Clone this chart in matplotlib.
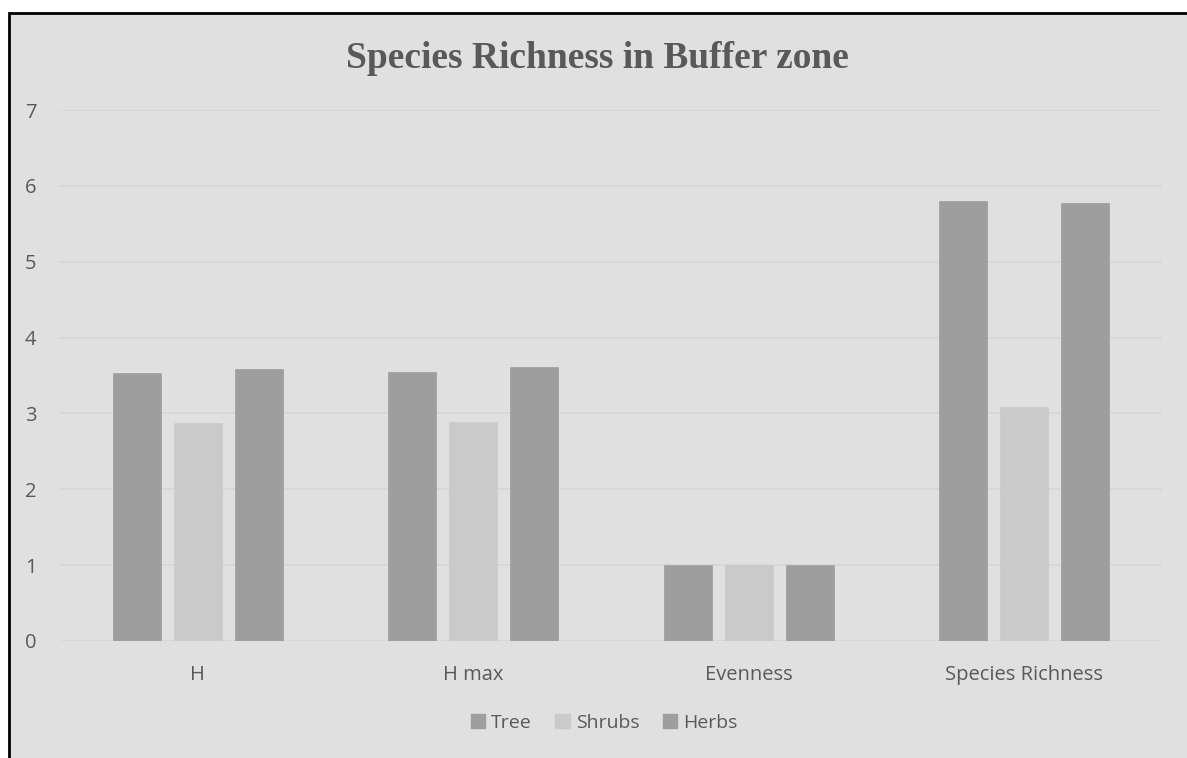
import matplotlib
matplotlib.use("Agg")
import matplotlib.pyplot as plt
from matplotlib.patches import Rectangle, Patch
import numpy as np

categories = ["H", "H max", "Evenness", "Species Richness"]
series_names = ["Tree", "Shrubs", "Herbs"]
tree = [3.53, 3.55, 1.0, 5.80]
shrubs = [2.88, 2.89, 1.0, 3.09]
herbs = [3.59, 3.61, 1.0, 5.78]
yticks = [0, 1, 2, 3, 4, 5, 6, 7]
title = "Species Richness in Buffer zone"

colors = ["#9E9E9E", "#CACACA", "#9E9E9E"]
text_color = "#595959"
bg = "#E0E0E0"

W, H = 1187, 758
fig = plt.figure(figsize=(W / 100, H / 100), dpi=100)
fig.patch.set_facecolor("white")

# chart area background with black border (left/top visible)
fig.patches.append(Rectangle((9 / W, -0.05), 1.2, (H - 13) / H + 0.05,
                             transform=fig.transFigure, facecolor=bg,
                             edgecolor="black", linewidth=2, zorder=-5))

ax = fig.add_axes([60 / W, 1 - 641 / H, (1162 - 60) / W, (641 - 110) / H])
ax.set_zorder(2)
ax.patch.set_visible(False)

x = np.arange(len(categories))
bw = 0.174
off = 0.2214
for i, (vals, name) in enumerate(zip([tree, shrubs, herbs], series_names)):
    ax.bar(x + (i - 1) * off, vals, width=bw, color=colors[i], label=name,
           zorder=3, edgecolor=colors[i], linewidth=0.5)

ax.set_xlim(-0.5, len(categories) - 0.5)
ax.set_ylim(0, 7)
ax.set_yticks(yticks)
ax.set_yticklabels([str(t) for t in yticks])
ax.set_xticks(x)
ax.set_xticklabels(categories)
ax.grid(axis="y", color="#D6D6D6", linewidth=1.2, zorder=0)
ax.set_axisbelow(True)
for s in ax.spines.values():
    s.set_visible(False)
ax.tick_params(axis="both", length=0, colors=text_color, labelsize=14.5)
ax.tick_params(axis="y", pad=17)
ax.tick_params(axis="x", pad=17)
for lab in ax.get_xticklabels() + ax.get_yticklabels():
    lab.set_fontfamily("Open Sans")
    lab.set_color(text_color)

fig.text(597 / W, 1 - 58 / H, title, ha="center", va="center",
         fontsize=27, fontweight="bold", family="Liberation Serif",
         color=text_color, zorder=5)

handles = [Patch(facecolor=c, edgecolor=c) for c in colors]
leg = fig.legend(handles, series_names, loc="center", bbox_to_anchor=(604 / W, 1 - 723 / H),
                 ncol=3, frameon=False, handlelength=0.75, handleheight=0.75,
                 columnspacing=1.2, handletextpad=0.3,
                 prop={"family": "Open Sans", "size": 14})
leg.set_zorder(5)
for t in leg.get_texts():
    t.set_color(text_color)

fig.savefig("out.png", dpi=100, facecolor=fig.get_facecolor())
